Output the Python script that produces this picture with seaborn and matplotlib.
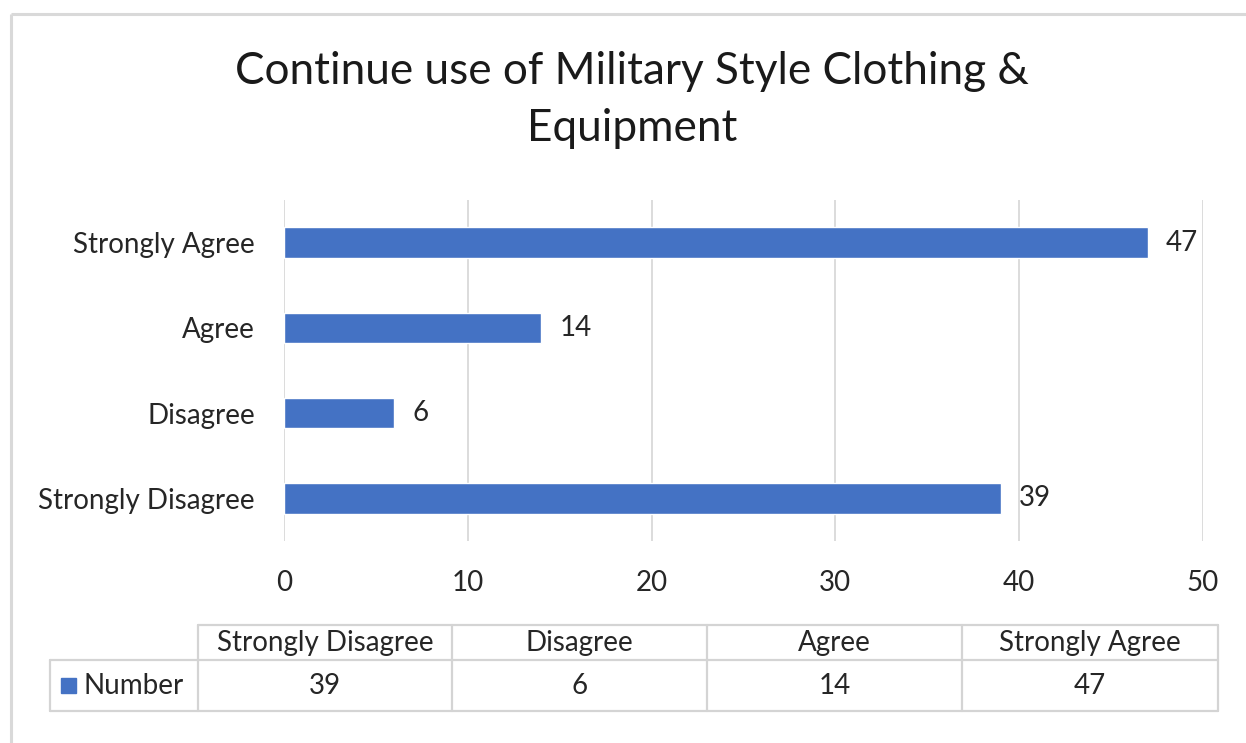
import matplotlib
matplotlib.use("Agg")
import matplotlib.pyplot as plt
import seaborn as sns
import pandas as pd
from matplotlib.patches import Rectangle

# Survey responses
categories = ["Strongly Disagree", "Disagree", "Agree", "Strongly Agree"]
counts = [39, 6, 14, 47]
series_name = "Number"
x_ticks = [0, 10, 20, 30, 40, 50]
title = "Continue use of Military Style Clothing &\nEquipment"

BAR_COLOR = "#4472C4"
TEXT_COLOR = "#262626"
GRID_COLOR = "#D9D9D9"
FONT = ["Lato", "DejaVu Sans"]
FS = 20

sns.set_theme(style="white")
plt.rcParams["font.family"] = FONT
plt.rcParams["text.color"] = TEXT_COLOR

df = pd.DataFrame({"category": categories, "value": counts})
order = categories[::-1]  # top-to-bottom drawing order

W, H = 1246, 743
fig = plt.figure(figsize=(W / 100, H / 100), dpi=100)

# overlay axes in pixel coordinates for frame, title and data table
ov = fig.add_axes([0, 0, 1, 1])
ov.set_xlim(0, W)
ov.set_ylim(H, 0)
ov.axis("off")

# chart area frame (extends past right and bottom edges)
ov.plot([11, 11], [14, H + 5], color=GRID_COLOR, lw=2.2, solid_capstyle="butt")
ov.plot([11, W + 5], [14, 14], color=GRID_COLOR, lw=2.2, solid_capstyle="butt")

ov.text(632, 100, title, ha="center", va="center", fontsize=31.8,
        color="#1a1a1a", linespacing=1.5)

# main bar chart
ax = fig.add_axes([284 / W, 1 - 541 / H, (1203 - 284) / W, (541 - 200) / H])
sns.barplot(data=df, x="value", y="category", order=order, orient="h",
            color=BAR_COLOR, width=0.36, saturation=1, ax=ax)
ax.set_xlim(0, 50)
ax.set_xticks(x_ticks)
ax.set_xticklabels([str(t) for t in x_ticks])
ax.set_xlabel("")
ax.set_ylabel("")
for s in ax.spines.values():
    s.set_visible(False)
ax.grid(axis="x", color=GRID_COLOR, lw=1.3)
ax.grid(axis="y", visible=False)
ax.set_axisbelow(True)
ax.tick_params(axis="x", length=0, pad=21, labelsize=FS, labelcolor=TEXT_COLOR)
ax.tick_params(axis="y", length=0, pad=21, labelsize=FS, labelcolor=TEXT_COLOR)
for c in ax.containers:
    ax.bar_label(c, labels=[f"{v:g}" for v in c.datavalues], padding=13,
                 fontsize=FS, color=TEXT_COLOR)

# data table below the chart
col_edges = [198, 452, 707, 962, 1218]
leg_left = 50
row_top, row_mid, row_bot = 625, 660, 711
tcol = "#D4D4D4"
lw = 1.6
ov.plot([col_edges[0], col_edges[-1]], [row_top, row_top], color=tcol, lw=lw)
ov.plot([leg_left, col_edges[-1]], [row_mid, row_mid], color=tcol, lw=lw)
ov.plot([leg_left, col_edges[-1]], [row_bot, row_bot], color=tcol, lw=lw)
ov.plot([leg_left, leg_left], [row_mid, row_bot], color=tcol, lw=lw)
for x in col_edges:
    ov.plot([x, x], [row_top, row_bot], color=tcol, lw=lw)
for i, (cat, val) in enumerate(zip(categories, counts)):
    cx = (col_edges[i] + col_edges[i + 1]) / 2
    ov.text(cx, (row_top + row_mid) / 2, cat, ha="center", va="center",
            fontsize=FS, color=TEXT_COLOR)
    ov.text(cx, (row_mid + row_bot) / 2, str(val), ha="center", va="center",
            fontsize=FS, color=TEXT_COLOR)
ov.add_patch(Rectangle((61, 678), 15, 15, color=BAR_COLOR))
ov.text(84, (row_mid + row_bot) / 2, series_name, ha="left", va="center",
        fontsize=FS, color=TEXT_COLOR)

fig.savefig("out.png", dpi=100)
